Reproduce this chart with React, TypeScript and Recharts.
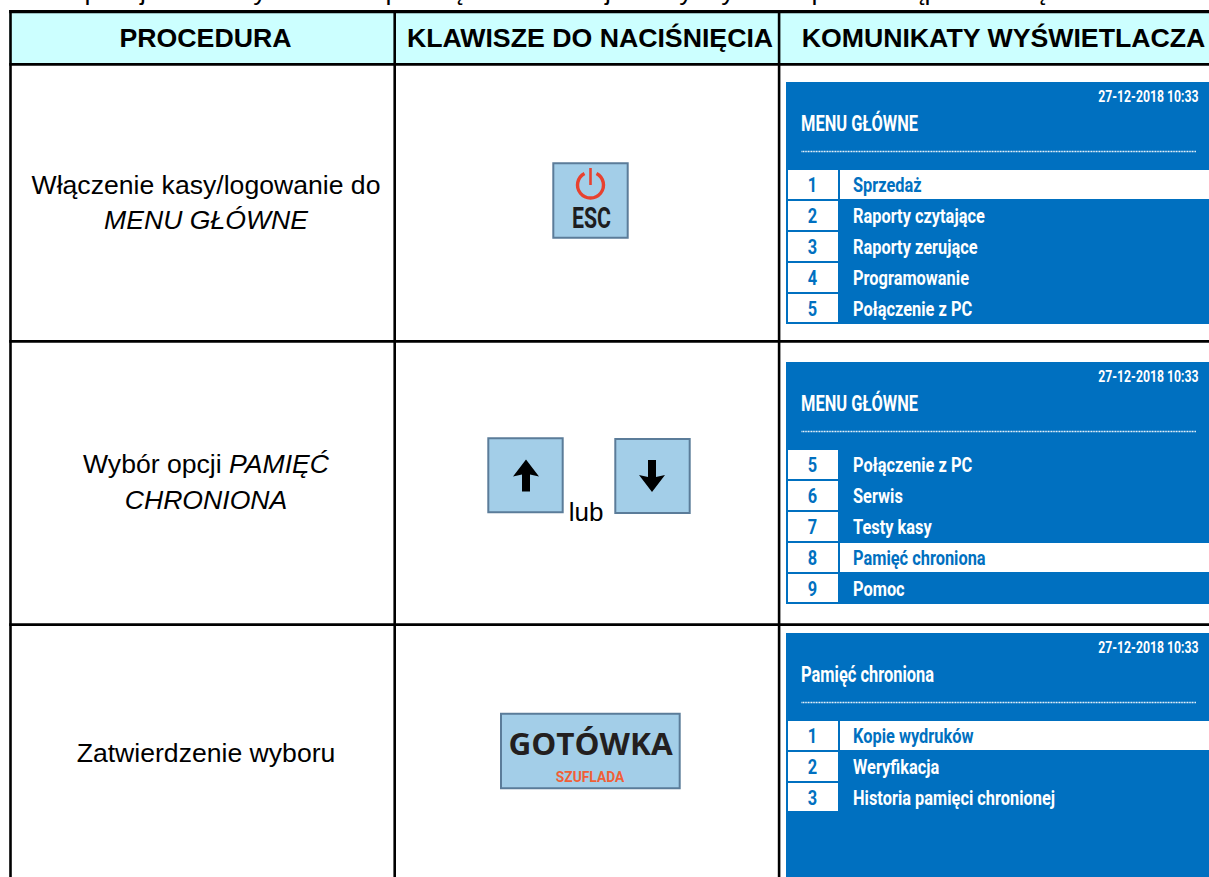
import React from "react";
import { ComposedChart, XAxis, YAxis, Line, ReferenceArea, ReferenceDot, ReferenceLine } from "recharts";

const WIDTH = 1209;
const HEIGHT = 877;

const headers = ["PROCEDURA", "KLAWISZE DO NACIŚNIĘCIA", "KOMUNIKATY WYŚWIETLACZA"];

// each line is a list of [text, italic] runs
const procedures: [string, boolean][][][] = [
  [[["Włączenie kasy/logowanie do", false]], [["MENU GŁÓWNE", true]]],
  [[["Wybór opcji ", false], ["PAMIĘĆ", true]], [["CHRONIONA", true]]],
  [[["Zatwierdzenie wyboru", false]]],
];

const screenDate = "27-12-2018 10:33";
const screenTitles = ["MENU GŁÓWNE", "MENU GŁÓWNE", "Pamięć chroniona"];
const screenNumbers = [
  ["1", "2", "3", "4", "5"],
  ["5", "6", "7", "8", "9"],
  ["1", "2", "3"],
];
const screenItems = [
  ["Sprzedaż", "Raporty czytające", "Raporty zerujące", "Programowanie", "Połączenie z PC"],
  ["Połączenie z PC", "Serwis", "Testy kasy", "Pamięć chroniona", "Pomoc"],
  ["Kopie wydruków", "Weryfikacja", "Historia pamięci chronionej"],
];
const screenSelected = [0, 3, 0];

const keyLabels = { esc: "ESC", or: "lub", cash: "GOTÓWKA", drawer: "SZUFLADA" };

// only the tails of this line are left, the page cuts off the rest
const clippedGlyphs = ["p", "j", "y", "p", "ą", "j", "y", "y", "p", "ą", "p", "ę"];
const clippedGlyphX = [92, 143, 260, 393, 455, 608, 686, 728, 819, 917, 932, 1042];

// layout of the table, in pixels
const colEdges = [9.2, 393.4, 777.8];
const rowLines = [10, 63, 340, 623.3];
const headerCenters = [205.5, 590, 1003.5];
const screenTops = [82, 362, 633];
const procedureBaselines = [[193.5, 229], [473, 509], [762]];
const frame = [{ x: 0, y: 0 }, { x: WIDTH, y: HEIGHT }];

const BLUE = "#0070C0";
const KEY_FILL = "#A3CEE8";
const KEY_EDGE = "#5B7C99";
const ARIAL = "'Liberation Sans', Arial, sans-serif";
const NARROW = "Roboto, sans-serif";

type TextOpts = {
  size: number;
  fill?: string;
  weight?: number;
  anchor?: "start" | "middle" | "end";
  family?: string;
  squeeze?: number;
  italic?: boolean;
};

function label(key: string, x: number, y: number, content: React.ReactNode, o: TextOpts) {
  return (
    <ReferenceDot
      key={key}
      x={x}
      y={y}
      r={0}
      ifOverflow="visible"
      shape={(p: any) => (
        <text
          transform={`translate(${p.cx} ${p.cy}) scale(${o.squeeze ?? 1} 1)`}
          fontSize={o.size}
          fontWeight={o.weight ?? 400}
          fontStyle={o.italic ? "italic" : "normal"}
          fontFamily={o.family ?? ARIAL}
          textAnchor={o.anchor ?? "start"}
          fill={o.fill ?? "#000"}
        >
          {content}
        </text>
      )}
    />
  );
}

function box(key: string, x1: number, x2: number, y1: number, y2: number, fill: string, stroke?: string) {
  return (
    <ReferenceArea
      key={key}
      x1={x1}
      x2={x2}
      y1={y1}
      y2={y2}
      fill={fill}
      fillOpacity={1}
      stroke={stroke}
      strokeWidth={stroke ? 2 : 0}
      ifOverflow="visible"
    />
  );
}

function glyph(key: string, x: number, y: number, draw: (cx: number, cy: number) => React.ReactElement) {
  return <ReferenceDot key={key} x={x} y={y} r={0} ifOverflow="visible" shape={(p: any) => draw(p.cx, p.cy)} />;
}

function screen(i: number) {
  const top = screenTops[i];
  const rowsTop = top + 88;
  const out: React.ReactNode[] = [];
  out.push(box(`s${i}`, 786, WIDTH, top, i === 2 ? HEIGHT : top + 242, BLUE));
  out.push(
    label(`d${i}`, 1198.5, top + 19.5, screenDate, { size: 17, weight: 700, fill: "#fff", anchor: "end", family: NARROW, squeeze: 0.72 })
  );
  out.push(
    label(`t${i}`, 801, top + 48.5, screenTitles[i], { size: 21.5, weight: 700, fill: "#fff", family: NARROW, squeeze: 0.765 })
  );
  out.push(
    <ReferenceLine
      key={`dots${i}`}
      segment={[{ x: 801.5, y: top + 69.5 }, { x: 1196, y: top + 69.5 }]}
      stroke="#fff"
      strokeWidth={1.5}
      strokeDasharray="1 0.6"
      ifOverflow="visible"
    />
  );
  screenItems[i].forEach((item, r) => {
    const y = rowsTop + r * 31;
    const last = r === screenItems[i].length - 1;
    const sel = screenSelected[i] === r;
    out.push(box(`n${i}-${r}`, 788, 838, y, y + (last ? 28 : 29), "#fff"));
    if (sel) out.push(box(`h${i}-${r}`, 840, WIDTH, y, y + 29, "#fff"));
    out.push(
      label(`nt${i}-${r}`, 812.5, y + 21.5, screenNumbers[i][r], { size: 21, weight: 700, fill: BLUE, anchor: "middle", family: NARROW, squeeze: 0.78 })
    );
    out.push(
      label(`it${i}-${r}`, 853, y + 21.5, item, { size: 21, weight: 700, fill: sel ? BLUE : "#fff", family: NARROW, squeeze: 0.78 })
    );
  });
  return out;
}

export default function App() {
  return (
    <div style={{ position: "absolute", left: 0, top: 0, width: WIDTH, height: HEIGHT, background: "#fff" }}>
      <ComposedChart width={WIDTH} height={HEIGHT} data={frame} margin={{ top: 0, right: 0, bottom: 0, left: 0 }}>
        <XAxis type="number" dataKey="x" domain={[0, WIDTH]} hide />
        <YAxis type="number" dataKey="y" domain={[0, HEIGHT]} reversed hide />
        <Line dataKey="y" stroke="none" dot={false} isAnimationActive={false} />

        {box("head", colEdges[0], WIDTH, rowLines[0], rowLines[1] + 2, "#CCFFFF")}
        {rowLines.map((y, i) => box(`row${i}`, colEdges[0], WIDTH, y, y + (i === 0 ? 3.2 : 2.7), "#000"))}
        {colEdges.map((x, i) => box(`col${i}`, x, x + 2.6, rowLines[0], HEIGHT, "#000"))}

        {clippedGlyphs.map((g, i) => label(`c${i}`, clippedGlyphX[i], 0, g, { size: 26.6, anchor: "middle" }))}

        {headers.map((h, i) =>
          label(`h${i}`, headerCenters[i], 46.6, h, { size: 26.7, weight: 700, anchor: "middle" })
        )}

        {procedures.map((lines, i) =>
          lines.map((runs, l) =>
            label(
              `p${i}-${l}`,
              206,
              procedureBaselines[i][l],
              runs.map(([t, it], k) => (
                <tspan key={k} fontStyle={it ? "italic" : "normal"}>
                  {t}
                </tspan>
              )),
              { size: 26.6, anchor: "middle" }
            )
          )
        )}

        {box("esc", 553.3, 627.7, 163.3, 237.7, KEY_FILL, KEY_EDGE)}
        {glyph("power", 590.5, 185, (cx, cy) => (
          <g fill="none" stroke="#E8412F" strokeWidth={3.4}>
            <path d={`M ${cx - 6} ${cy - 11.5} A 13 13 0 1 0 ${cx + 6} ${cy - 11.5}`} />
            <path d={`M ${cx} ${cy - 17} V ${cy}`} strokeWidth={2.6} />
          </g>
        ))}
        {label("esct", 591.5, 228.2, keyLabels.esc, { size: 30, weight: 700, fill: "#1D1D1F", anchor: "middle", family: NARROW, squeeze: 0.71 })}

        {box("up", 488.3, 562.7, 438.3, 512.3, KEY_FILL, KEY_EDGE)}
        {glyph("upa", 526, 459.5, (cx, cy) => (
          <path d={`M ${cx} ${cy} L ${cx + 13} ${cy + 17} L ${cx + 4} ${cy + 15} V ${cy + 32} H ${cx - 4} V ${cy + 15} L ${cx - 13} ${cy + 17} Z`} fill="#000" />
        ))}
        {label("lub", 586, 521, keyLabels.or, { size: 26, anchor: "middle" })}
        {box("down", 615.3, 689.7, 439, 513, KEY_FILL, KEY_EDGE)}
        {glyph("downa", 652, 492, (cx, cy) => (
          <path d={`M ${cx} ${cy} L ${cx + 13} ${cy - 17} L ${cx + 4} ${cy - 15} V ${cy - 32} H ${cx - 4} V ${cy - 15} L ${cx - 13} ${cy - 17} Z`} fill="#000" />
        ))}

        {box("cash", 501, 679.7, 713.7, 788.3, KEY_FILL, KEY_EDGE)}
        {label("casht", 590.5, 755, keyLabels.cash, { size: 30, weight: 700, fill: "#231F20", anchor: "middle", family: "'Open Sans', sans-serif", squeeze: 1.05 })}
        {label("drawer", 590, 781.5, keyLabels.drawer, { size: 15.5, weight: 700, fill: "#F15F36", anchor: "middle", family: NARROW, squeeze: 0.89 })}

        {screen(0)}
        {screen(1)}
        {screen(2)}
      </ComposedChart>
    </div>
  );
}
